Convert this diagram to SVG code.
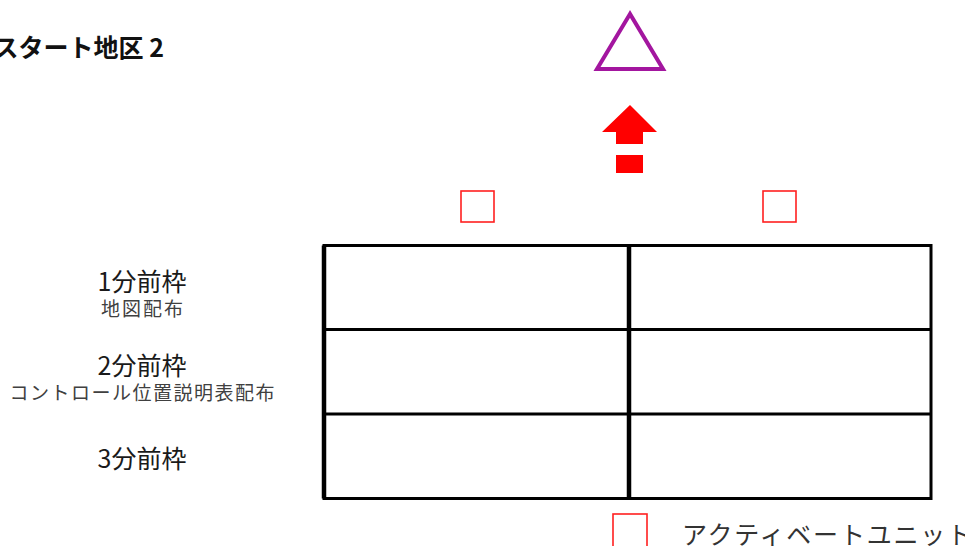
<svg xmlns="http://www.w3.org/2000/svg" width="965" height="546" viewBox="0 0 965 546">
<style>
.t{font-family:"Noto Sans CJK JP","Noto Sans",sans-serif;}
.lbl{font-size:25px;fill:#1a1a1a;text-anchor:middle;}
.sub{font-size:19px;fill:#404040;text-anchor:middle;}
.rsq{fill:none;stroke:#ff2020;stroke-width:1.6;}
.grid{stroke:#000;fill:none;}
</style>
<rect width="965" height="546" fill="#fff"/>
<g id="title"><text class="t" x="164" y="57" font-size="25" font-weight="bold" text-anchor="end" fill="#111">スタート地区 2</text></g>
<g id="start-triangle"><polygon points="630,14 597,69 663,69" fill="none" stroke="#a3169f" stroke-width="4" stroke-linejoin="miter"/></g>
<g id="arrow">
<polygon points="630,105 657,132 643,132 643,144 616,144 616,132 602,132" fill="#ff0000"/>
<rect x="616" y="155" width="27" height="18" fill="#ff0000"/>
</g>
<g id="unit-left"><rect class="rsq" x="461" y="191" width="33" height="31"/></g>
<g id="unit-right"><rect class="rsq" x="763" y="191" width="33" height="31"/></g>
<g id="table">
<rect class="grid" x="324" y="245.5" width="607" height="253" stroke-width="3"/>
<line class="grid" x1="324" y1="245.5" x2="324" y2="498.5" stroke-width="4.5"/>
<line class="grid" x1="629" y1="245.5" x2="629" y2="498.5" stroke-width="4.5"/>
<line class="grid" x1="324" y1="329.5" x2="931" y2="329.5" stroke-width="3"/>
<line class="grid" x1="324" y1="414" x2="931" y2="414" stroke-width="3"/>
</g>
<g id="row1"><text class="t lbl" x="142" y="291">1分前枠</text><text class="t sub" x="142" y="316" textLength="82" lengthAdjust="spacing">地図配布</text></g>
<g id="row2"><text class="t lbl" x="142" y="375">2分前枠</text><text class="t sub" x="142" y="400" textLength="265" lengthAdjust="spacing">コントロール位置説明表配布</text></g>
<g id="row3"><text class="t lbl" x="142" y="468">3分前枠</text></g>
<g id="legend">
<rect class="rsq" x="613" y="514" width="34" height="40"/>
<text class="t" x="682" y="544" font-size="25" fill="#333" textLength="290" lengthAdjust="spacing">アクティベートユニット</text>
</g>
<g id="connectors"></g>
</svg>
